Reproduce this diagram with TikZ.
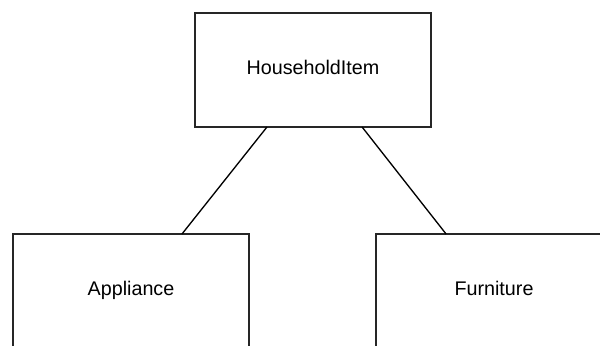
\documentclass[tikz,border=0pt]{standalone}
\usepackage{fontspec}
\setmainfont{Liberation Sans}
\usetikzlibrary{calc}

\begin{document}
\begin{tikzpicture}[
    x=0.75pt, y=-0.75pt,
    every node/.style={font=\fontsize{14.8}{17}\selectfont},
    box/.style={rectangle, draw=black!85, line width=1.3pt, fill=white, inner sep=0pt, outer sep=0pt, minimum width=177pt, text height=1.6ex, text depth=.4ex, align=center},
    link/.style={draw=black, line width=1pt}
    ]
    \clip (0,0) rectangle (600,346);
    \node[box, minimum height=85.5pt] (item) at (313,70) {HouseholdItem};
    \node[box, minimum height=85.5pt] (appl) at (131,291) {Appliance};
    \node[box, minimum height=85.5pt] (furn) at (494,291) {Furniture};
    \draw[link] ($(item.south west)!0.305!(item.south east)$) -- ($(appl.north west)!0.716!(appl.north east)$);
    \draw[link] ($(item.south west)!0.708!(item.south east)$) -- ($(furn.north west)!0.297!(furn.north east)$);
  \end{tikzpicture}
\end{document}
